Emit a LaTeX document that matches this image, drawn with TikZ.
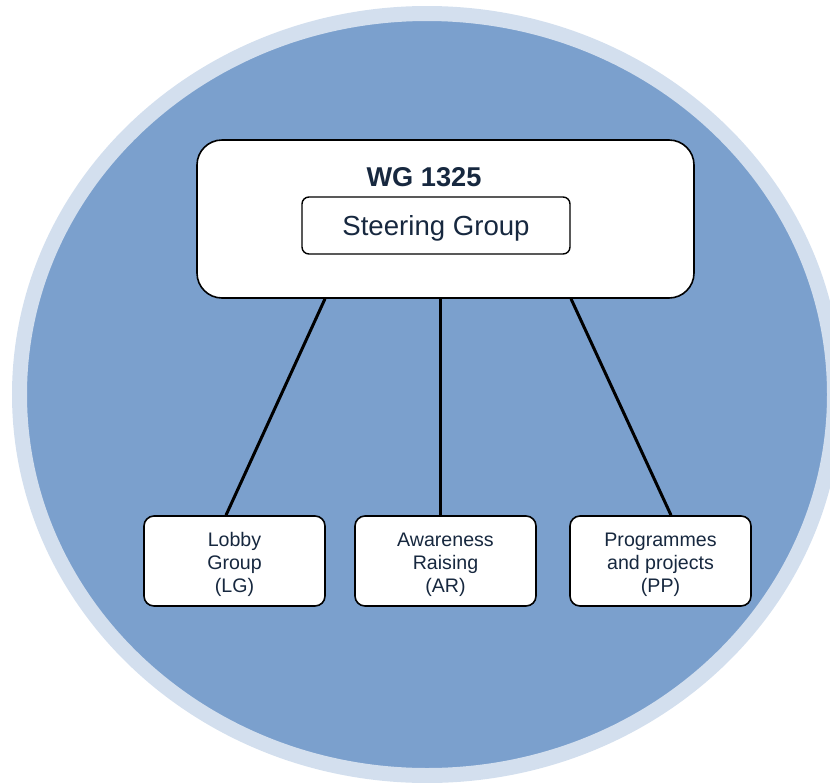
\documentclass[tikz,border=0pt]{standalone}
\usepackage{fontspec}
\setmainfont{Liberation Sans}
\usepackage{tikz}
\definecolor{ringblue}{HTML}{D3DFEE}
\definecolor{fillblue}{HTML}{7BA0CD}
\definecolor{navy}{HTML}{17283F}
\newcommand\gapstrut{\rule{0pt}{22pt}}
\tikzset{
  bigbox/.style = {draw, line width=1.6pt, fill=white, rounded corners=25pt, minimum width=497pt, minimum height=158pt},
  steerbox/.style = {draw, line width=1.4pt, fill=white, rounded corners=7pt, minimum width=268pt, minimum height=57pt, text height=26pt, text=navy, font=\fontsize{27.6}{30}\selectfont},
  group/.style = {draw, line width=1.6pt, fill=white, rounded corners=10pt, minimum width=181pt, minimum height=90pt, align=center, text=navy, font=\fontsize{19.6}{23}\selectfont},
  link/.style = {line width=3pt}
}

\begin{document}
\begin{tikzpicture}[x=1pt,y=-1pt]
\clip (0,0) rectangle (830,782);
\draw[fill=fillblue, draw=ringblue, line width=15pt] (427,394.5) ellipse (407.5 and 381);
% top box
\node[bigbox] (wg) at (445.5,219) {};
\node[text=navy, font=\fontsize{27.2}{30}\selectfont\bfseries] (wgtitle) at (424,177) {WG 1325};
\node[steerbox] (steer) at (436,225.5) {Steering Group};
% the three groups
\node[group] (lg) at (234.5,561) {\gapstrut Lobby\\Group\\(LG)};
\node[group] (ar) at (445.5,561) {\gapstrut Awareness\\Raising\\(AR)};
\node[group] (pp) at (660.5,561) {\gapstrut Programmes\\and projects\\(PP)};
\draw[link] ([xshift=-120.5pt]wg.south) -- ([xshift=-8.5pt]lg.north);
\draw[link] ([xshift=-5.5pt]wg.south) -- ([xshift=-5.5pt]ar.north);
\draw[link] ([xshift=125.5pt]wg.south) -- ([xshift=10.5pt]pp.north);
\end{tikzpicture}
\end{document}
